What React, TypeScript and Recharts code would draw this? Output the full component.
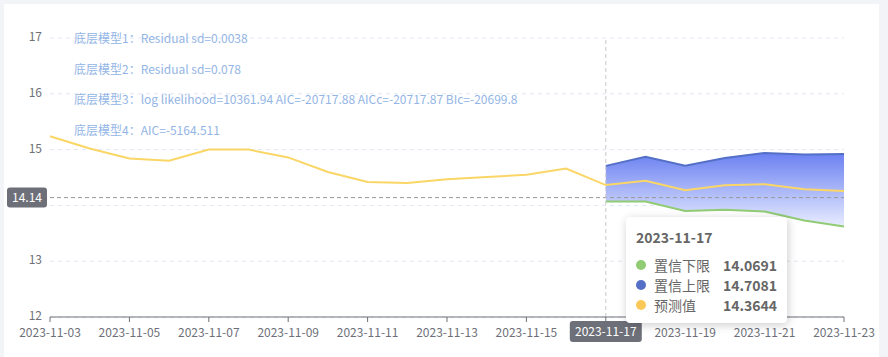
import {
  Area,
  CartesianGrid,
  ComposedChart,
  Line,
  ReferenceLine,
  Tooltip,
  XAxis,
  YAxis,
} from "recharts";

const dates = [
  "2023-11-03", "2023-11-04", "2023-11-05", "2023-11-06", "2023-11-07",
  "2023-11-08", "2023-11-09", "2023-11-10", "2023-11-11", "2023-11-12",
  "2023-11-13", "2023-11-14", "2023-11-15", "2023-11-16", "2023-11-17",
  "2023-11-18", "2023-11-19", "2023-11-20", "2023-11-21", "2023-11-22",
  "2023-11-23",
];

// observed values 11-03 .. 11-16
const history = [
  15.24, 15.02, 14.84, 14.8, 15.0, 15.0, 14.86, 14.6, 14.42, 14.4, 14.47,
  14.51, 14.55, 14.66,
];

// forecast 11-17 .. 11-23
const forecast = [14.3644, 14.44, 14.27, 14.36, 14.38, 14.29, 14.26];
const lower = [14.0691, 14.07, 13.9, 13.92, 13.89, 13.73, 13.62];
const upper = [14.7081, 14.87, 14.71, 14.85, 14.94, 14.91, 14.92];

const yTicks = [12, 13, 14, 15, 16, 17];
const refValue = 14.14;
const selectedDate = "2023-11-17";

const notes = [
  "底层模型1：Residual sd=0.0038",
  "底层模型2：Residual sd=0.078",
  "底层模型3：log likelihood=10361.94 AIC=-20717.88 AICc=-20717.87 BIc=-20699.8",
  "底层模型4：AIC=-5164.511",
];

const start = history.length;
const data = dates.map((date, i) => {
  const k = i - start;
  const inForecast = k >= 0;
  return {
    date,
    value: inForecast ? forecast[k] : history[i],
    lower: inForecast ? lower[k] : null,
    upper: inForecast ? upper[k] : null,
    band: inForecast ? [lower[k], upper[k]] : null,
  };
});

const FONT = '"Noto Sans CJK SC", "Noto Sans", sans-serif';
const AXIS = "#6e7079";

function XTick(props: any) {
  const { x, y, payload } = props;
  if (payload.value === selectedDate) {
    return (
      <g>
        <rect x={x - 36} y={y - 3} width={72} height={21} rx={3} fill="#6e7079" />
        <text x={x} y={y + 12} textAnchor="middle" fill="#fff" fontSize={12} fontFamily={FONT}>
          {payload.value}
        </text>
      </g>
    );
  }
  return (
    <text x={x} y={y + 13} textAnchor="middle" fill={AXIS} fontSize={12} fontFamily={FONT}>
      {payload.value}
    </text>
  );
}

// the 14 label sits under the 14.14 marker box in the original, so skip it
function YTick(props: any) {
  const { x, y, payload } = props;
  if (Math.abs(payload.value - refValue) < 0.3) return null;
  return (
    <text x={x} y={y + 3} textAnchor="end" fill={AXIS} fontSize={12} fontFamily={FONT}>
      {payload.value}
    </text>
  );
}

function RefLabel(props: any) {
  const { viewBox } = props;
  const y = viewBox.y;
  return (
    <g>
      <rect x={7} y={y - 10} width={40} height={20} rx={3} fill="#6e7079" />
      <text x={27} y={y + 4} textAnchor="middle" fill="#fff" fontSize={12} fontFamily={FONT}>
        {refValue}
      </text>
    </g>
  );
}

function TipBox({ payload, label }: any) {
  if (!payload || !payload.length) return null;
  const row = payload[0].payload;
  const items = [
    { name: "置信下限", color: "#91cc75", v: row.lower },
    { name: "置信上限", color: "#5470c6", v: row.upper },
    { name: "预测值", color: "#fac858", v: row.value },
  ];
  return (
    <div
      style={{
        background: "#fff",
        borderRadius: 4,
        boxShadow: "1px 2px 10px rgba(0,0,0,0.2)",
        padding: "10px 10px 8px 10px",
        width: 141,
        fontFamily: FONT,
        color: "#666",
      }}
    >
      <div style={{ fontSize: 14, fontWeight: 700, marginBottom: 8 }}>{label}</div>
      {items.map((it) => (
        <div
          key={it.name}
          style={{ display: "flex", alignItems: "center", fontSize: 14, lineHeight: "20px" }}
        >
          <span
            style={{
              width: 10,
              height: 10,
              borderRadius: 5,
              background: it.color,
              marginRight: 8,
            }}
          />
          <span style={{ flex: 1 }}>{it.name}</span>
          <span style={{ fontWeight: 700 }}>{it.v}</span>
        </div>
      ))}
    </div>
  );
}

export default function App() {
  return (
    <div
      style={{
        position: "absolute",
        left: 0,
        top: 0,
        width: 888,
        height: 357,
        background: "#f3f4f8",
        overflow: "hidden",
      }}
    >
      <div
        style={{
          position: "absolute",
          left: 4,
          top: 4,
          width: 875,
          height: 360,
          background: "#fff",
        }}
      />
      <div style={{ position: "absolute", left: 0, top: 0 }}>
        <ComposedChart
          width={888}
          height={357}
          data={data}
          margin={{ top: 38, right: 44, bottom: 10, left: 0 }}
        >
          <defs>
            <linearGradient id="bandFill" x1="0" y1="0" x2="0" y2="1">
              <stop offset="0%" stopColor="#6a80f1" stopOpacity={1} />
              <stop offset="100%" stopColor="#e9edff" stopOpacity={1} />
            </linearGradient>
          </defs>
          <CartesianGrid vertical={false} stroke="#e0e6f1" strokeDasharray="4 4" />
          <XAxis
            dataKey="date"
            scale="point"
            padding={{ left: 0, right: 0 }}
            interval={1}
            height={30}
            tick={<XTick />}
            tickSize={5}
            axisLine={{ stroke: AXIS }}
            tickLine={{ stroke: AXIS }}
          />
          <YAxis
            domain={[12, 17]}
            ticks={yTicks}
            width={50}
            axisLine={false}
            tickLine={false}
            tick={<YTick />}
          />
          <Area
            dataKey="band"
            stroke="none"
            fill="url(#bandFill)"
            fillOpacity={1}
            isAnimationActive={false}
            activeDot={false}
          />
          <Line
            dataKey="upper"
            stroke="#5470c6"
            strokeWidth={2}
            dot={false}
            activeDot={false}
            isAnimationActive={false}
          />
          <Line
            dataKey="lower"
            stroke="#91cc75"
            strokeWidth={2}
            dot={false}
            activeDot={false}
            isAnimationActive={false}
          />
          <Line
            dataKey="value"
            stroke="#fad666"
            strokeWidth={2}
            dot={false}
            activeDot={false}
            isAnimationActive={false}
          />
          <ReferenceLine
            y={refValue}
            stroke="#9a9a9a"
            strokeDasharray="4 3"
            label={<RefLabel />}
          />
          <ReferenceLine x={selectedDate} stroke="#c8c8c8" strokeDasharray="4 3" />
          <Tooltip
            active
            defaultIndex={14}
            cursor={false}
            position={{ x: 626, y: 217 }}
            isAnimationActive={false}
            content={<TipBox />}
            wrapperStyle={{ outline: "none" }}
          />
        </ComposedChart>
      </div>
      {notes.map((n, i) => (
        <div
          key={i}
          style={{
            position: "absolute",
            left: 74,
            top: 30 + i * 30.5,
            fontSize: 12,
            lineHeight: "16px",
            color: "#93b5e6",
            fontFamily: FONT,
            whiteSpace: "nowrap",
          }}
        >
          {n}
        </div>
      ))}
    </div>
  );
}
